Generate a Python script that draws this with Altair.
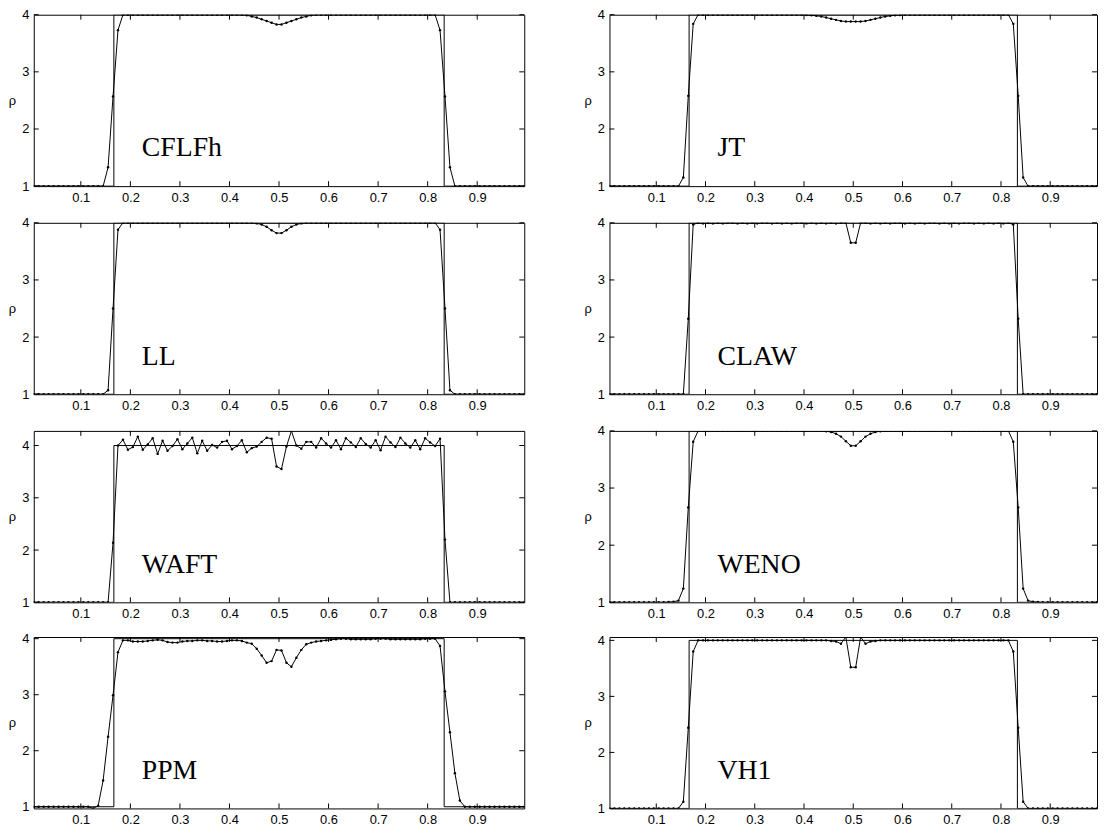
import altair as alt
import pandas as pd

# cell centres of the 100-cell grid
X = [round(0.005 + 0.01 * i, 3) for i in range(100)]

EXACT_X = [0.005, 1 / 6, 1 / 6, 5 / 6, 5 / 6, 0.995]
EXACT_Y = [1.0, 1.0, 4.0, 4.0, 1.0, 1.0]

X_TICKS = [0.1, 0.2, 0.3, 0.4, 0.5, 0.6, 0.7, 0.8, 0.9]
Y_TICKS = [1, 2, 3, 4]

CFLFH = ([1.0] * 15 + [1.33, 2.57, 3.73] + [4.0] * 25 +
         [3.99, 3.97, 3.95, 3.92, 3.89, 3.86, 3.83, 3.83, 3.86, 3.89, 3.92, 3.95, 3.97, 3.99] +
         [4.0] * 25 + [3.73, 2.57, 1.33] + [1.0] * 15)

JT = ([1.0] * 15 + [1.15, 2.58, 3.84] + [4.0] * 22 +
      [3.995, 3.99, 3.98, 3.97, 3.95, 3.93, 3.91, 3.89, 3.88, 3.88,
       3.88, 3.88, 3.89, 3.91, 3.93, 3.95, 3.97, 3.98, 3.99, 3.995] +
      [4.0] * 22 + [3.84, 2.58, 1.15] + [1.0] * 15)

LL = ([1.0] * 15 + [1.07, 2.5, 3.88] + [4.0] * 27 +
      [3.99, 3.97, 3.93, 3.87, 3.82, 3.82, 3.87, 3.93, 3.97, 3.99] +
      [4.0] * 27 + [3.88, 2.5, 1.07] + [1.0] * 15)

CLAW = ([1.0] * 16 + [2.32, 3.97] +
        [4.0, 3.99, 4.0, 3.99, 4.0, 3.99, 4.0, 4.0, 3.99, 4.0, 3.99, 4.0, 3.99, 4.0, 4.0, 3.99,
         4.0, 3.99, 4.0, 3.99, 4.0, 4.0, 3.99, 4.0, 3.99, 4.0, 3.99, 4.0, 3.99, 4.0, 4.0] +
        [3.65, 3.65] +
        [4.0, 4.0, 3.99, 4.0, 3.99, 4.0, 3.99, 4.0, 4.0, 3.99, 4.0, 3.99, 4.0, 3.99, 4.0, 4.0,
         3.99, 4.0, 3.99, 4.0, 3.99, 4.0, 4.0, 3.99, 4.0, 3.99, 4.0, 3.99, 4.0, 3.99, 4.0] +
        [3.97, 2.32] + [1.0] * 16)

WAFT = ([1.0] * 16 + [2.14, 4.0,
        4.11, 3.92, 3.97, 4.17, 3.92, 4.02, 4.14, 3.84, 4.09, 3.90,
        3.99, 4.12, 3.93, 4.04, 4.15, 3.85, 4.09, 3.90, 4.01, 3.96,
        4.07, 4.09, 3.93, 3.99, 4.10, 3.87, 3.95, 3.98, 4.07, 4.15,
        4.13, 3.60, 3.55, 3.98, 4.28, 4.00, 3.94, 4.07, 4.07, 3.96,
        4.14, 4.04, 3.96, 4.10, 3.93, 4.14, 4.06, 3.97, 4.14, 4.03,
        3.96, 4.10, 3.91, 4.17, 4.06, 3.97, 4.15, 4.04, 3.96, 4.10,
        3.93, 4.14, 4.06, 3.99, 4.13, 2.2] + [1.0] * 16)

WENO = ([1.0] * 12 + [1.005, 1.01, 1.03, 1.24, 2.66, 3.81] + [4.0] * 26 +
        [3.995, 3.98, 3.95, 3.90, 3.82, 3.74, 3.74, 3.82, 3.90, 3.95, 3.98, 3.995] +
        [4.0] * 26 + [3.81, 2.66, 1.24, 1.03, 1.01, 1.005] + [1.0] * 12)

PPM = ([1.0] * 11 +
       [1.0, 0.97, 1.02, 1.47, 2.25, 2.99, 3.76, 3.97,
        3.97, 3.95, 3.95, 3.95, 3.96, 3.97, 3.98, 3.97, 3.94, 3.93,
        3.93, 3.95, 3.96, 3.96, 3.97, 3.97, 3.96, 3.96, 3.95, 3.95,
        3.96, 3.97, 3.97, 3.96, 3.93, 3.91, 3.82, 3.70, 3.57, 3.60,
        3.80, 3.79, 3.57, 3.50, 3.66, 3.80, 3.90, 3.93, 3.95, 3.96,
        3.97, 3.98, 3.99, 4.0, 4.0, 3.99, 3.99, 3.99, 3.99, 3.99,
        4.0, 4.0, 4.0, 3.99, 3.99, 3.99, 3.99, 3.99, 3.99, 3.99,
        4.0, 4.0, 4.0,
        3.87, 3.06, 2.33, 1.60, 1.11, 1.0] + [1.0] * 12)

VH1 = ([1.0] * 15 + [1.12, 2.44, 3.8] + [4.0] * 27 +
       [3.99, 3.98, 3.94, 4.06, 3.52, 3.52, 4.06, 3.94, 3.98, 3.99] +
       [4.0] * 27 + [3.8, 2.44, 1.12] + [1.0] * 15)

PANELS = [
    ("CFLFh", CFLFH, [1, 4], 495),
    ("JT", JT, [1, 4], 492),
    ("LL", LL, [1, 4], 495),
    ("CLAW", CLAW, [1, 4], 492),
    ("WAFT", WAFT, [1, 4.28], 495),
    ("WENO", WENO, [1, 4], 492),
    ("PPM", PPM, [0.97, 4.03], 495),
    ("VH1", VH1, [1, 4.06], 492),
]

H = 173
SANS = "Liberation Sans"


def panel(name, rho, ydom, w):
    xs = alt.Scale(domain=[0.005, 0.995], nice=False, zero=False)
    ys = alt.Scale(domain=ydom, nice=False, zero=False)
    xax = alt.Axis(values=X_TICKS, ticks=False, domain=False, grid=False,
                   labelFontSize=13, labelPadding=5, format=".1f", title=None,
                   labelFont=SANS, labelColor="black")
    yax = alt.Axis(values=Y_TICKS, ticks=False, domain=False, grid=False,
                   labelFontSize=13, labelPadding=5, format="d", title="ρ",
                   titleAngle=0, titleFont=SANS, titleFontSize=13,
                   titleFontWeight="normal", titleColor="black",
                   titleX=-22, titleY=H / 2, titleAlign="center",
                   titleBaseline="middle", labelFont=SANS, labelColor="black")

    num = pd.DataFrame({"x": X, "rho": rho})
    ex = pd.DataFrame({"x": EXACT_X, "rho": EXACT_Y, "o": list(range(len(EXACT_X)))})

    exact = alt.Chart(ex).mark_line(color="black", strokeWidth=1, clip=True).encode(
        x=alt.X("x:Q", scale=xs, axis=xax),
        y=alt.Y("rho:Q", scale=ys, axis=yax),
        order="o:Q",
    )
    line = alt.Chart(num).mark_line(color="black", strokeWidth=1, clip=True).encode(
        x="x:Q", y="rho:Q")
    pts = alt.Chart(num).mark_circle(color="black", size=6, opacity=1, clip=True).encode(
        x="x:Q", y="rho:Q")

    lab = alt.Chart(pd.DataFrame({"t": [name]})).mark_text(
        font="Liberation Serif", fontSize=28, align="left", baseline="alphabetic",
        color="black").encode(x=alt.value(109), y=alt.value(H - 30), text="t:N")

    xt = pd.DataFrame({"x": X_TICKS})
    yt = pd.DataFrame({"rho": Y_TICKS})
    tb = alt.Chart(xt).mark_rule(color="black", strokeWidth=1).encode(
        x="x:Q", y=alt.value(H), y2=alt.value(H - 5))
    tt = alt.Chart(xt).mark_rule(color="black", strokeWidth=1).encode(
        x="x:Q", y=alt.value(0), y2=alt.value(5))
    tl = alt.Chart(yt).mark_rule(color="black", strokeWidth=1).encode(
        y="rho:Q", x=alt.value(0), x2=alt.value(5))
    tr = alt.Chart(yt).mark_rule(color="black", strokeWidth=1).encode(
        y="rho:Q", x=alt.value(w), x2=alt.value(w - 5))

    return alt.layer(exact, line, pts, lab, tb, tt, tl, tr).properties(width=w, height=H)


charts = [panel(*p) for p in PANELS]
rows = [alt.hconcat(charts[i], charts[i + 1], spacing=58) for i in range(0, 8, 2)]
chart = alt.vconcat(*rows, spacing=11).properties(
    padding={"top": -4, "left": -1, "right": 0, "bottom": 0}
).configure_view(stroke="black", strokeWidth=1)

chart.save("out.html", embed_options={"renderer": "svg", "actions": False})
